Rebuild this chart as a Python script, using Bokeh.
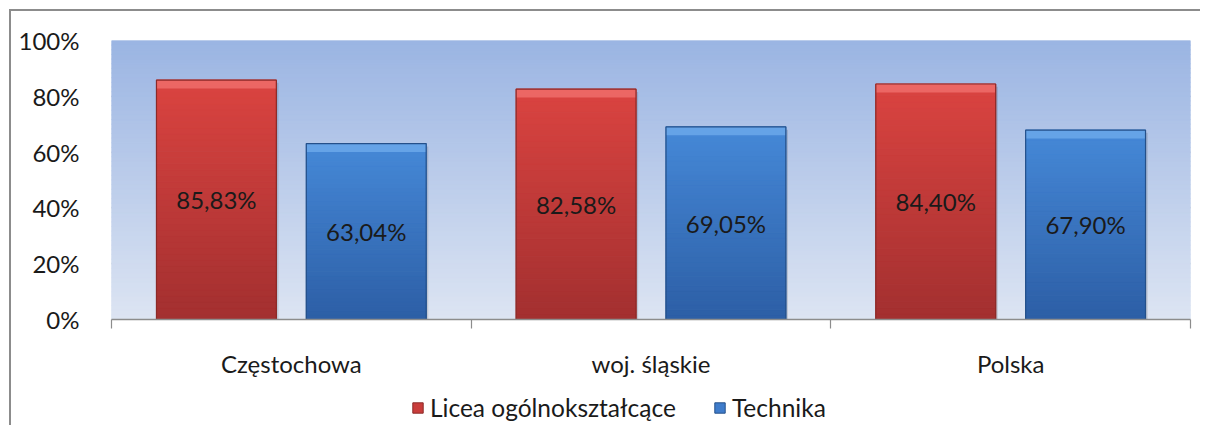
import numpy as np
from bokeh.plotting import figure
from bokeh.layouts import column
from bokeh.models import (Range1d, FixedTicker, NumeralTickFormatter, ColumnDataSource,
                          Legend, LegendItem)
from bokeh.core.properties import value
from bokeh.embed import file_html
from bokeh.resources import INLINE

# ---- data ----
categories = ["Częstochowa", "woj. śląskie", "Polska"]
series_names = ["Licea ogólnokształcące", "Technika"]
licea = [0.8583, 0.8258, 0.8440]
technika = [0.6304, 0.6905, 0.6790]
licea_labels = ["85,83%", "82,58%", "84,40%"]
technika_labels = ["63,04%", "69,05%", "67,90%"]
y_ticks = [0, 0.2, 0.4, 0.6, 0.8, 1.0]

FONT = "Lato"
FS = "24px"

W, H1, H2 = 1200, 380, 45
p = figure(width=W, height=H1, output_backend="svg", toolbar_location=None,
           x_range=Range1d(0, 3), y_range=Range1d(0, 1),
           min_border_left=111, min_border_right=W - 1190, min_border_top=40, min_border_bottom=60)
p.outline_line_color = None
p.background_fill_color = "#dde5f3"
p.border_fill_color = None

# background gradient
nb = 60
edges = np.linspace(0, 1, nb + 1)
top_c = np.array([155, 181, 227])
bot_c = np.array([221, 229, 243])
cols = []
for i in range(nb):
    t = (edges[i] + edges[i + 1]) / 2
    c = bot_c + (top_c - bot_c) * t
    cols.append("#%02x%02x%02x" % tuple(int(v) for v in c))
p.quad(left=0, right=3, bottom=edges[:-1], top=edges[1:], fill_color=cols, line_color=cols,
       line_width=1)

# grid lines
p.xgrid.visible = False
p.ygrid.ticker = FixedTicker(ticks=y_ticks)
p.ygrid.grid_line_color = "#8a8a8a"
p.ygrid.grid_line_width = 1.5
p.ygrid.level = "underlay"

def draw_bars(vals, offset, top_rgb, bot_rgb, bevel_rgb, edge_col):
    n = 40
    w = 0.3333
    for i, v in enumerate(vals):
        xc = i + offset
        e = np.linspace(0, v, n + 1)
        cl = []
        for k in range(n):
            t = (e[k] + e[k + 1]) / 2 / v
            c = np.array(bot_rgb) + (np.array(top_rgb) - np.array(bot_rgb)) * t
            cl.append("#%02x%02x%02x" % tuple(int(x) for x in c))
        # shadow
        p.quad(left=xc - w / 2 + 0.004, right=xc + w / 2 + 0.006, bottom=-0.02, top=v - 0.01,
               fill_color="#000000", fill_alpha=0.12, line_color=None)
        p.quad(left=xc - w / 2, right=xc + w / 2, bottom=e[:-1], top=e[1:],
               fill_color=cl, line_color=cl, line_width=1)
        # top bevel
        p.quad(left=xc - w / 2, right=xc + w / 2, bottom=v - 0.03, top=v,
               fill_color="#%02x%02x%02x" % tuple(bevel_rgb), fill_alpha=0.75, line_color=None)
        p.quad(left=xc - w / 2, right=xc + w / 2, bottom=0, top=v,
               fill_color=None, line_color=edge_col, line_width=1.2)

draw_bars(licea, 0.2917, (219, 68, 65), (163, 48, 48), (242, 115, 112), "#8c2a28")
draw_bars(technika, 0.7083, (70, 137, 216), (45, 95, 166), (112, 172, 236), "#24508a")

# data labels
xs_l = [i + 0.2917 for i in range(3)]
xs_t = [i + 0.7083 for i in range(3)]
p.text(x=xs_l, y=[v / 2 for v in licea], text=licea_labels, text_align="center",
       text_baseline="middle", text_font=value(FONT), text_font_size=FS, text_color="#1a1a1a")
p.text(x=xs_t, y=[v / 2 for v in technika], text=technika_labels, text_align="center",
       text_baseline="middle", text_font=value(FONT), text_font_size=FS, text_color="#1a1a1a")

# axes
p.yaxis.ticker = FixedTicker(ticks=y_ticks)
p.yaxis.formatter = NumeralTickFormatter(format="0%")
p.yaxis.axis_line_color = None
p.yaxis.major_tick_line_color = None
p.yaxis.minor_tick_line_color = None
p.yaxis.major_label_standoff = 26
p.yaxis.major_label_text_font = FONT
p.yaxis.major_label_text_font_size = FS
p.yaxis.major_label_text_color = "#1a1a1a"

p.xaxis.ticker = FixedTicker(ticks=[0.5, 1.5, 2.5], minor_ticks=[0, 1, 2, 3])
p.xaxis.major_label_overrides = {i + 0.5: c for i, c in enumerate(categories)}
p.xaxis.axis_line_color = "#8c8c8c"
p.xaxis.axis_line_width = 1.5
p.xaxis.major_tick_line_color = None
p.xaxis.minor_tick_line_color = "#8c8c8c"
p.xaxis.minor_tick_line_width = 1.2
p.xaxis.minor_tick_in = 0
p.xaxis.minor_tick_out = 9
p.xaxis.major_label_standoff = 20
p.xaxis.major_label_text_font = FONT
p.xaxis.major_label_text_font_size = FS
p.xaxis.major_label_text_color = "#1a1a1a"

# legend figure
q = figure(width=W, height=H2, output_backend="svg", toolbar_location=None,
           x_range=Range1d(0, 1), y_range=Range1d(0, 1), x_axis_type=None, y_axis_type=None,
           min_border=0)
q.outline_line_color = None
q.border_fill_color = None
q.background_fill_color = None
q.xgrid.visible = False
q.ygrid.visible = False
# legend swatches live outside the visible range
swatch = ColumnDataSource(dict(l=[-10], r=[-9], b=[-10], t=[-9]))
r1 = q.quad(left="l", right="r", bottom="b", top="t", source=swatch,
            fill_color="#c93d3b", line_color="#8c2a28", line_width=1)
r2 = q.quad(left="l", right="r", bottom="b", top="t", source=swatch,
            fill_color="#3f7ccb", line_color="#24508a", line_width=1)
legend = Legend(items=[LegendItem(label=series_names[0], renderers=[r1]),
                       LegendItem(label=series_names[1], renderers=[r2])],
                orientation="horizontal", location=(300, 3),
                label_text_font=FONT, label_text_font_size="24.5px", label_text_color="#1a1a1a",
                glyph_width=13, glyph_height=13, label_standoff=6, spacing=37,
                padding=0, margin=0, border_line_color=None, background_fill_alpha=0)
q.add_layout(legend, "center")

frame_css = {
    "background-image": (
        "linear-gradient(to right, transparent 9px, #8c8c8c 9px, #8c8c8c 11px, transparent 11px), "
        "linear-gradient(to bottom, transparent 9px, #8c8c8c 9px, #8c8c8c 11px, transparent 11px)"
    ),
    "background-size": "100% 100%, 100% 100%",
    "background-position": "0px 9px, 9px 0px",
    "background-repeat": "no-repeat, no-repeat",
    "background-color": "white",
}
layout = column(p, q, spacing=0, styles=frame_css)
open("out.html", "w").write(file_html(layout, INLINE))
